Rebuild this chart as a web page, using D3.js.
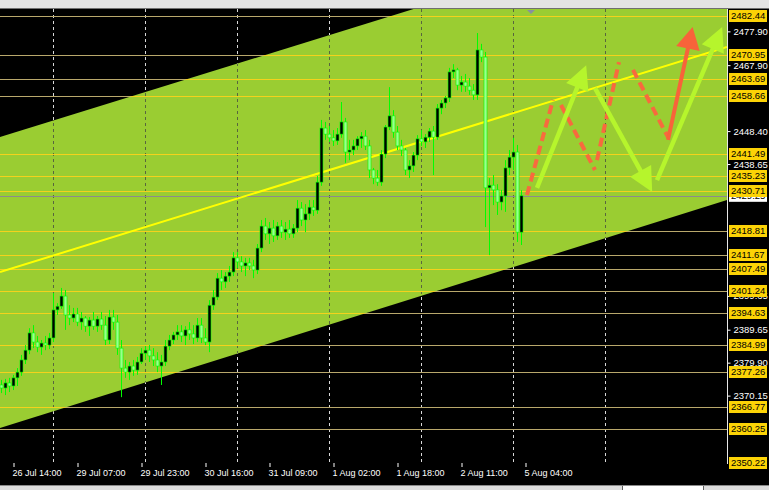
<!DOCTYPE html>
<html><head><meta charset="utf-8">
<script src="https://cdn.jsdelivr.net/npm/d3@7"></script>
<style>
html,body{margin:0;padding:0;background:#000;overflow:hidden}
svg{display:block}
text{font-family:"Liberation Sans",Arial,sans-serif}
</style></head><body>
<svg id="c" width="769" height="490"></svg>
<script>
// ---------- data ----------
const timeLabels = ["26 Jul 14:00","29 Jul 07:00","29 Jul 23:00","30 Jul 16:00","31 Jul 09:00","1 Aug 02:00","1 Aug 18:00","2 Aug 11:00","5 Aug 04:00"];
const timeLabelIdx = [3,19,35,51,67,83,99,115,131];
const gridIdx = [13,36,59,82,105,128,151];
const levels = [2482.44,2470.95,2463.69,2458.66,2441.49,2435.23,2430.71,2418.81,2411.67,2407.49,2401.24,2394.63,2384.99,2377.26,2366.77,2360.25,2350.22];
const priceTicks = [2477.90,2467.90,2448.40,2438.65,2399.65,2389.65,2379.90,2370.15];
const currentPrice = 2429.25;

const opens = [2373.3,2372.4,2373.9,2373.0,2375.4,2377.1,2380.7,2383.6,2388.7,2386.0,
 2384.5,2385.7,2385.1,2387.2,2395.5,2396.6,2399.6,2394.0,2393.1,2394.3,
 2391.9,2393.1,2390.7,2392.5,2390.7,2392.8,2391.0,2386.6,2393.4,2391.9,
 2384.2,2378.3,2377.1,2378.9,2377.7,2380.1,2382.7,2383.6,2381.9,2380.7,
 2378.9,2380.1,2384.8,2386.6,2388.1,2389.0,2387.8,2389.6,2388.4,2387.2,
 2391.0,2387.2,2386.0,2396.9,2399.3,2404.9,2403.8,2405.5,2406.7,2410.9,
 2409.7,2408.5,2409.4,2408.5,2407.3,2413.8,2420.3,2418.0,2419.7,2417.4,
 2420.3,2418.5,2419.4,2418.0,2419.7,2425.6,2422.1,2423.9,2425.9,2425.0,
 2433.3,2449.3,2447.5,2446.4,2445.5,2447.5,2451.1,2442.2,2442.8,2444.0,
 2446.1,2446.9,2444.0,2436.9,2434.5,2433.3,2441.6,2449.6,2452.9,2448.1,
 2444.0,2442.8,2436.9,2438.1,2441.3,2446.1,2445.2,2446.6,2448.4,2446.6,
 2455.2,2456.7,2458.2,2465.9,2466.5,2462.0,2462.9,2461.7,2460.5,2459.1,
 2472.4,2470.3,2431.6,2432.4,2431.0,2427.4,2429.2,2437.5,2440.7,2442.2,
 2418.5];
const highs = [2374.8,2375.1,2375.4,2376.3,2378.3,2382.2,2385.1,2390.1,2391.0,2387.8,
 2386.6,2387.8,2388.7,2400.5,2397.5,2402.0,2401.4,2396.9,2396.1,2396.1,
 2394.9,2393.7,2393.4,2394.9,2393.7,2394.9,2393.7,2395.5,2395.5,2394.0,
 2386.6,2380.7,2380.1,2380.7,2381.6,2384.2,2384.8,2385.1,2384.2,2383.0,
 2382.2,2386.6,2388.1,2389.0,2391.0,2391.0,2390.7,2391.9,2391.0,2393.1,
 2393.1,2390.1,2398.4,2401.4,2406.4,2407.3,2406.7,2408.5,2412.6,2412.6,
 2411.4,2410.9,2410.9,2410.3,2415.0,2422.1,2422.7,2421.5,2422.1,2421.5,
 2422.1,2421.5,2422.1,2420.9,2428.0,2427.4,2426.8,2428.0,2428.0,2435.1,
 2451.7,2451.1,2449.9,2448.7,2449.3,2457.0,2452.3,2445.8,2445.8,2446.9,
 2448.1,2448.7,2445.8,2437.5,2436.9,2442.8,2450.2,2461.4,2454.6,2449.9,
 2445.8,2443.4,2439.8,2442.2,2447.2,2448.7,2447.5,2449.3,2449.9,2456.4,
 2457.6,2458.8,2467.1,2468.2,2467.1,2464.7,2465.3,2464.1,2462.3,2477.4,
 2474.2,2471.8,2434.5,2435.4,2432.7,2431.0,2439.8,2442.8,2446.4,2444.3,
 2430.9];
const lows = [2370.9,2370.3,2371.2,2371.8,2373.0,2376.0,2379.5,2382.4,2384.2,2383.0,
 2382.2,2383.6,2383.9,2386.0,2394.0,2395.8,2389.6,2391.0,2391.9,2390.7,
 2389.6,2389.0,2387.8,2389.6,2389.0,2389.6,2385.1,2385.4,2389.6,2382.2,
 2369.7,2375.4,2374.8,2376.0,2376.3,2379.5,2380.7,2380.1,2378.9,2377.1,
 2373.3,2378.9,2383.6,2385.4,2386.6,2386.0,2385.1,2386.6,2385.4,2386.0,
 2385.7,2385.1,2383.0,2395.5,2398.4,2401.4,2402.0,2403.8,2405.5,2407.9,
 2406.7,2405.5,2407.3,2404.9,2406.1,2412.6,2416.2,2415.0,2415.6,2416.2,
 2416.8,2416.2,2416.8,2416.8,2418.5,2420.3,2418.5,2422.1,2423.3,2423.9,
 2432.2,2445.8,2445.2,2444.0,2444.3,2446.4,2439.0,2439.8,2441.3,2442.8,
 2443.4,2442.8,2434.5,2432.7,2432.2,2432.2,2440.4,2448.7,2446.4,2442.8,
 2441.0,2435.4,2434.5,2436.3,2439.8,2444.0,2443.4,2445.2,2435.4,2445.8,
 2453.4,2455.2,2457.0,2464.1,2460.5,2460.0,2460.0,2459.1,2457.6,2457.6,
 2468.8,2420.0,2411.7,2426.5,2423.6,2425.0,2424.5,2435.4,2436.9,2415.6,
 2414.7];
const closes = [2372.4,2373.9,2373.0,2375.4,2377.1,2380.7,2383.6,2388.7,2386.0,2384.5,
 2385.7,2385.1,2387.2,2395.5,2396.6,2399.6,2394.0,2393.1,2394.3,2391.9,
 2393.1,2390.7,2392.5,2390.7,2392.8,2391.0,2386.6,2393.4,2391.9,2384.2,
 2378.3,2377.1,2378.9,2377.7,2380.1,2382.7,2383.6,2381.9,2380.7,2378.9,
 2380.1,2384.8,2386.6,2388.1,2389.0,2387.8,2389.6,2388.4,2387.2,2391.0,
 2387.2,2386.0,2396.9,2399.3,2404.9,2403.8,2405.5,2406.7,2410.9,2409.7,
 2408.5,2409.4,2408.5,2407.3,2413.8,2420.3,2418.0,2419.7,2417.4,2420.3,
 2418.5,2419.4,2418.0,2419.7,2425.6,2422.1,2423.9,2425.9,2425.0,2433.3,
 2449.3,2447.5,2446.4,2445.5,2447.5,2451.1,2442.2,2442.8,2444.0,2446.1,
 2446.9,2444.0,2436.9,2434.5,2433.3,2441.6,2449.6,2452.9,2448.1,2444.0,
 2442.8,2436.9,2438.1,2441.3,2446.1,2445.2,2446.6,2448.4,2446.6,2455.2,
 2456.7,2458.2,2465.9,2466.5,2462.0,2462.9,2461.7,2460.5,2459.1,2472.4,
 2470.3,2431.6,2432.4,2431.0,2427.4,2429.2,2437.5,2440.7,2442.2,2418.5,
 2429.25];

// channel & trend line (bar index, price)
const channelUpper = [[-0.25,2446.65],[181.5,2513.2]];
const channelLower = [[-0.25,2360.57],[181.5,2428.0]];
const midLine = [[-0.25,2406.7],[181.5,2473.3]];

// projection annotations (bar index, price)
const orangeDashed = [
  [[131.5,2429.5],[138,2457.6]],
  [[140,2456.1],[148.5,2436.9]],
  [[149,2439.8],[154.5,2468.8]],
  [[158,2466.5],[166.75,2446.6]]
];
const orangeArrows = [ [[166.75,2445.8],[172.9,2479.2]] ];
const greenArrows = [
  [[134,2431.6],[146.3,2467.9]],
  [[148.5,2461.1],[162.8,2430.4]],
  [[164,2433.9],[180.3,2479.2]]
];

// ---------- drawing ----------
const W = 769, H = 490, plotR = 727, plotT = 9, plotB = 463;
const svg = d3.select("#c");
const x = d3.scaleLinear().domain([0,130]).range([1,521]);
const y = d3.scaleLinear().domain([2350.22,2482.44]).range([463,16]);

svg.append("rect").attr("width",W).attr("height",H).attr("fill","#000");
// window chrome
svg.append("rect").attr("x",0).attr("y",0).attr("width",W).attr("height",8).attr("fill","#e4e4e4");
svg.append("line").attr("x1",0).attr("x2",W).attr("y1",8.5).attr("y2",8.5).attr("stroke","#707070");
svg.append("rect").attr("x",0).attr("y",485).attr("width",W).attr("height",5).attr("fill","#dcdcdc");
svg.append("line").attr("x1",0).attr("x2",W).attr("y1",485.5).attr("y2",485.5).attr("stroke","#8a8a8a");
svg.append("rect").attr("x",622).attr("y",486).attr("width",81).attr("height",4).attr("fill","#fff");
svg.append("line").attr("x1",622.5).attr("x2",622.5).attr("y1",486).attr("y2",490).attr("stroke","#606060");
svg.append("line").attr("x1",703.5).attr("x2",703.5).attr("y1",486).attr("y2",490).attr("stroke","#606060");

const defs = svg.append("defs");
defs.append("clipPath").attr("id","plotClip").append("rect")
  .attr("x",0).attr("y",plotT).attr("width",plotR).attr("height",plotB-plotT);
const chanPts = [channelUpper[0],channelUpper[1],channelLower[1],channelLower[0]].map(p=>[x(p[0]),y(p[1])]);
defs.append("clipPath").attr("id","chanClip").append("polygon").attr("points",chanPts.map(p=>p.join(",")).join(" "));

const plot = svg.append("g").attr("clip-path","url(#plotClip)");

// grid (light on black)
plot.append("g").selectAll("line").data(gridIdx).join("line")
  .attr("x1",d=>Math.round(x(d))+0.5).attr("x2",d=>Math.round(x(d))+0.5)
  .attr("y1",plotT).attr("y2",plotB)
  .attr("stroke","#d8d8d8").attr("stroke-dasharray","3,3");

// channel
plot.append("polygon").attr("points",chanPts.map(p=>p.join(",")).join(" ")).attr("fill","#9acd32");

// grid (dark on channel)
plot.append("g").attr("clip-path","url(#chanClip)").selectAll("line").data(gridIdx).join("line")
  .attr("x1",d=>Math.round(x(d))+0.5).attr("x2",d=>Math.round(x(d))+0.5)
  .attr("y1",plotT).attr("y2",plotB)
  .attr("stroke","#58663e").attr("stroke-dasharray","3,3");

// level lines
plot.append("g").selectAll("line").data(levels).join("line")
  .attr("x1",0).attr("x2",plotR)
  .attr("y1",d=>Math.round(y(d))+0.5).attr("y2",d=>Math.round(y(d))+0.5)
  .attr("stroke","#b9a86c");
plot.append("g").attr("clip-path","url(#chanClip)").selectAll("line").data(levels).join("line")
  .attr("x1",0).attr("x2",plotR)
  .attr("y1",d=>Math.round(y(d))+0.5).attr("y2",d=>Math.round(y(d))+0.5)
  .attr("stroke","#f4d21c");

// current price line
plot.append("line").attr("x1",0).attr("x2",plotR)
  .attr("y1",Math.round(y(currentPrice))+0.5).attr("y2",Math.round(y(currentPrice))+0.5)
  .attr("stroke","#8c8c8c");

// mid trend line
plot.append("line").attr("x1",x(midLine[0][0])).attr("y1",y(midLine[0][1]))
  .attr("x2",x(midLine[1][0])).attr("y2",y(midLine[1][1]))
  .attr("stroke","#ffff00").attr("stroke-width",2);

// candles
const bars = opens.map((o,i)=>({i,o,h:highs[i],l:lows[i],c:closes[i]}));
const cg = plot.append("g");
cg.selectAll("line.w").data(bars).join("line").attr("class","w")
  .attr("x1",d=>x(d.i)+0.5).attr("x2",d=>x(d.i)+0.5)
  .attr("y1",d=>y(d.h)).attr("y2",d=>y(d.l))
  .attr("stroke","#00ff00").attr("stroke-width",1);
cg.selectAll("rect").data(bars).join("rect")
  .attr("x",d=>x(d.i)-1)
  .attr("width",3)
  .attr("y",d=>y(Math.max(d.o,d.c)))
  .attr("height",d=>Math.max(1,Math.abs(y(d.o)-y(d.c))))
  .attr("fill",d=>d.c>=d.o?"#000":"#9cff8c")
  .attr("stroke","#00ff00").attr("stroke-width",0.6);

// annotations
const ann = plot.append("g");
const P = p=>[x(p[0]),y(p[1])];
ann.selectAll("line.od").data(orangeDashed).join("line").attr("class","od")
  .attr("x1",d=>P(d[0])[0]).attr("y1",d=>P(d[0])[1])
  .attr("x2",d=>P(d[1])[0]).attr("y2",d=>P(d[1])[1])
  .attr("stroke","#f86a3e").attr("stroke-width",4).attr("stroke-dasharray","9,5");

function arrow(g, seg, color, width, headLen, halfW){
  const a=P(seg[0]), b=P(seg[1]);
  const dx=b[0]-a[0], dy=b[1]-a[1], len=Math.hypot(dx,dy);
  const ux=dx/len, uy=dy/len, px=-uy, py=ux;
  const bx=b[0]-ux*headLen, by=b[1]-uy*headLen;
  g.append("line").attr("x1",a[0]).attr("y1",a[1]).attr("x2",bx+ux*2).attr("y2",by+uy*2)
    .attr("stroke",color).attr("stroke-width",width);
  g.append("polygon").attr("points",[[b[0],b[1]],[bx+px*halfW,by+py*halfW],[bx-px*halfW,by-py*halfW]].map(p=>p.join(",")).join(" "))
    .attr("fill",color);
}
greenArrows.forEach(s=>arrow(ann,s,"#b6f52c",4.5,24,12));
orangeArrows.forEach(s=>arrow(ann,s,"#f8633a",4,22,12));

// chart shift marker
svg.append("path").attr("d",`M${x(132.5)-4},10 L${x(132.5)+4},10 L${x(132.5)},14 Z`).attr("fill","#8890a0");

// ---------- axes ----------
const ra = svg.append("g").attr("transform",`translate(${plotR+0.5},0)`)
  .call(d3.axisRight(y).tickValues(priceTicks).tickSize(3).tickPadding(3).tickFormat(d3.format(".2f")));
ra.select(".domain").remove();
ra.selectAll("line").attr("stroke","#fff");
ra.selectAll("text").attr("fill","#fff").attr("font-size","9.5px").attr("font-family","Liberation Sans, Arial, sans-serif");
svg.append("line").attr("x1",plotR+0.5).attr("x2",plotR+0.5).attr("y1",plotT).attr("y2",plotB+1).attr("stroke","#e8e8e8");

// current price tag
const cp = svg.append("g").attr("transform",`translate(729,${y(currentPrice)})`);
cp.append("rect").attr("x",0).attr("y",-6).attr("width",38).attr("height",12).attr("fill","#fff");
cp.append("text").attr("x",2).attr("dy","0.35em").attr("fill","#000").attr("font-size","9.5px").text(d3.format(".2f")(currentPrice));

// level tags
const lt = svg.append("g").selectAll("g").data(levels).join("g")
  .attr("transform",d=>`translate(729,${Math.round(y(d))})`);
lt.append("rect").attr("x",0).attr("y",-6).attr("width",38).attr("height",12).attr("fill","#fcd306");
lt.append("text").attr("x",2).attr("dy","0.36em").attr("fill","#000").attr("font-size","9.5px").text(d=>d3.format(".2f")(d));

// time axis
const ba = svg.append("g").attr("transform",`translate(0,${plotB})`)
  .call(d3.axisBottom(x).tickValues(timeLabelIdx).tickSize(4).tickPadding(3).tickFormat((d,i)=>timeLabels[i]));
ba.select(".domain").remove();
ba.selectAll("line").attr("stroke","#fff").attr("transform","translate(0.5,0)");
ba.selectAll("text").attr("fill","#fff").attr("font-size","9px").attr("text-anchor","start").attr("dx","-1")
  .attr("font-family","Liberation Sans, Arial, sans-serif");
</script>
</body></html>
